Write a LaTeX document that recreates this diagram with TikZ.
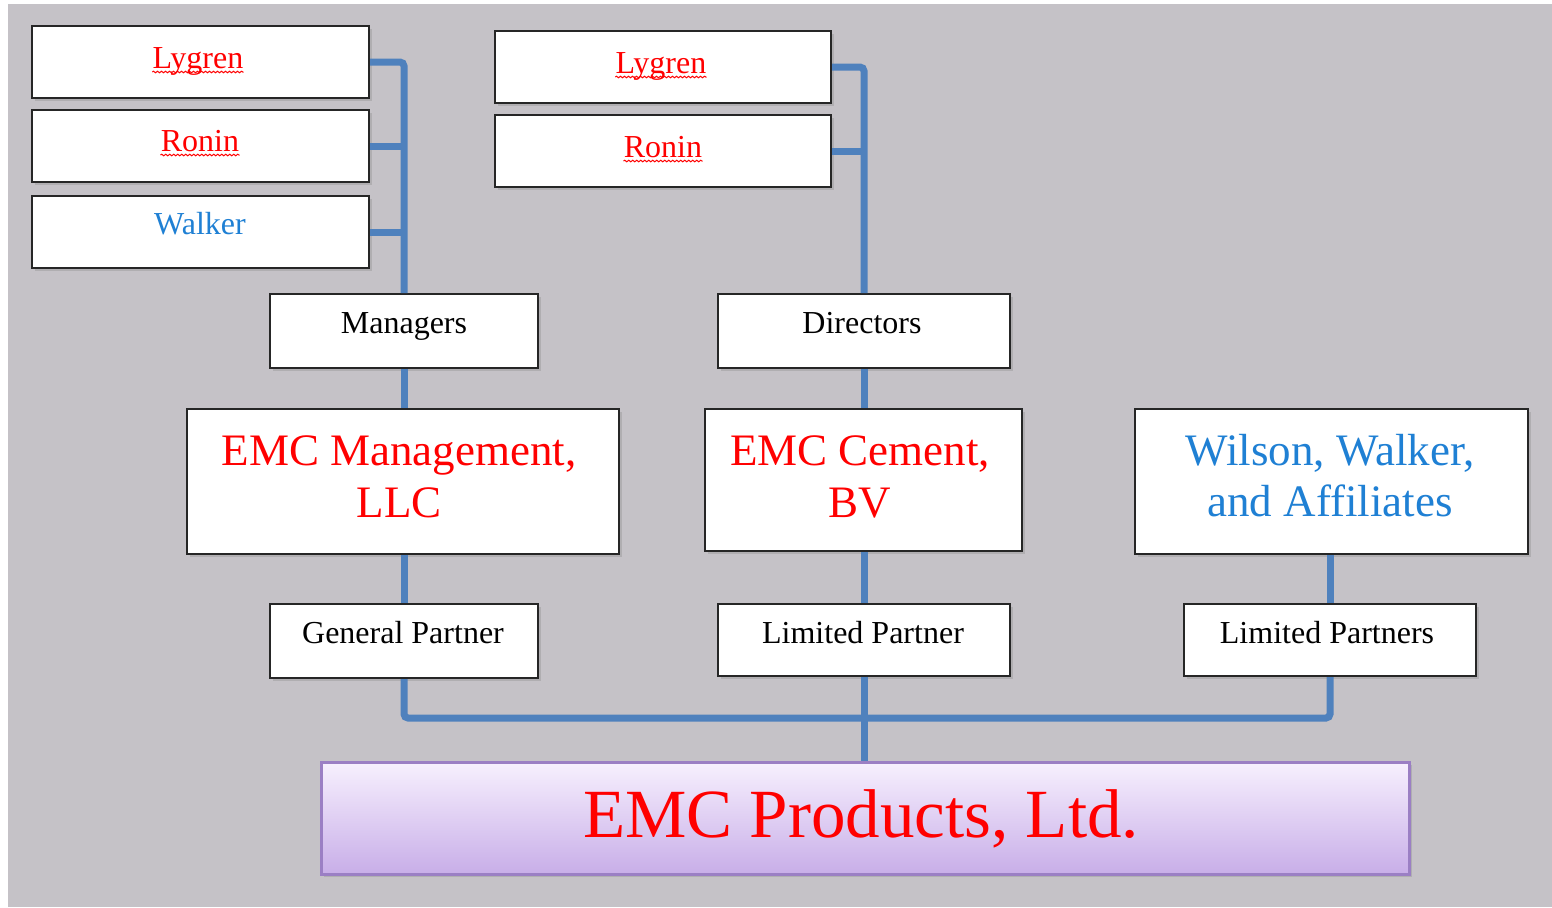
\documentclass[tikz,border=0pt]{standalone}
\usepackage{fontspec}
\setmainfont{Liberation Serif}
\usetikzlibrary{shadows,decorations.pathmorphing}
\definecolor{bg}{HTML}{C5C2C7}
\definecolor{conn}{HTML}{4F81BD}
\definecolor{tblue}{RGB}{31,128,212}
\definecolor{tred}{HTML}{FF0000}
\definecolor{pborder}{HTML}{9B7FC4}
\definecolor{ptop}{HTML}{F7F0FE}
\definecolor{pbot}{HTML}{C8AEE8}
\begin{document}
\begin{tikzpicture}[x=0.5pt,y=-0.5pt,
  box/.style={draw=black!85, line width=1pt, fill=white, inner sep=0pt,
    drop shadow={shadow xshift=1.5pt, shadow yshift=-1.5pt, opacity=0.3}},
  small/.style={font=\fontsize{16}{19}\selectfont, inner sep=0pt, anchor=base},
  big/.style={font=\fontsize{22.5}{26}\selectfont, inner sep=0pt, anchor=base},
  wire/.style={draw=conn, line width=3.5pt},
  squig/.style={draw=tred, line width=0.5pt, decorate,
    decoration={snake, amplitude=0.4pt, segment length=2pt}}]
\useasboundingbox (0,0) rectangle (1552,907);
\fill[white] (0,0) rectangle (1552,907);
\fill[bg] (8,4) rectangle (1552,907);

\coordinate (bus) at (863,718);

% boxes
\node[box, minimum width=168.5pt, minimum height=36pt] (lyg1) at (200.5,62) {};
\node[box, minimum width=168.5pt, minimum height=36pt] (ron1) at (200.5,146) {};
\node[box, minimum width=168.5pt, minimum height=36pt] (wal) at (200.5,232) {};
\node[box, minimum width=168pt, minimum height=36pt] (lyg2) at (663,67) {};
\node[box, minimum width=168pt, minimum height=36pt] (ron2) at (663,151) {};
\node[box, minimum width=134pt, minimum height=37pt] (mgr) at (404,331) {};
\node[box, minimum width=146pt, minimum height=37pt] (dir) at (864,331) {};
\node[box, minimum width=216pt, minimum height=72.5pt] (emcm) at (403,481.5) {};
\node[box, minimum width=158.5pt, minimum height=71pt] (emcc) at (863.5,480) {};
\node[box, minimum width=196.5pt, minimum height=72.5pt] (wil) at (1331.5,481.5) {};
\node[box, minimum width=134pt, minimum height=37pt] (gp) at (404,641) {};
\node[box, minimum width=146pt, minimum height=36pt] (lp) at (864,640) {};
\node[box, minimum width=146pt, minimum height=36pt] (lps) at (1330,640) {};
\node[draw=pborder, line width=1.5pt, top color=ptop, bottom color=pbot,
  minimum width=544pt, minimum height=56pt, inner sep=0pt,
  drop shadow={shadow xshift=1.5pt, shadow yshift=-1.5pt, opacity=0.3}] (prod) at (865,818) {};

% connectors
\draw[wire, rounded corners=2pt] (lyg1.east) -| (mgr.north);
\draw[wire] (ron1.east) -- (ron1.east -| mgr.north);
\draw[wire] (wal.east) -- (wal.east -| mgr.north);
\draw[wire, rounded corners=2pt] (lyg2.east) -| (dir.north);
\draw[wire] (ron2.east) -- (ron2.east -| dir.north);
\draw[wire] (mgr.south) -- (mgr.south |- emcm.north);
\draw[wire] (emcm.south -| gp.north) -- (gp.north);
\draw[wire] (dir.south) -- (dir.south |- emcc.north);
\draw[wire] (emcc.south -| lp.north) -- (lp.north);
\draw[wire] (wil.south -| lps.north) -- (lps.north);
\draw[wire, rounded corners=2pt] (gp.south) |- (bus) -| (lps.south);
\draw[wire] (lp.south) -- (lp.south |- prod.north);

% texts
\node[small, tred] (lyg1t) at (198,68) {Lygren};
\node[small, tred] (ron1t) at (200,151) {Ronin};
\node[small, tblue] (walt) at (200,234) {Walker};
\node[small, tred] (lyg2t) at (661,73) {Lygren};
\node[small, tred] (ron2t) at (663,157) {Ronin};
\draw[squig] ([yshift=-2pt]lyg1t.base west) -- ([yshift=-2pt]lyg1t.base east);
\draw[squig] ([yshift=-2pt]ron1t.base west) -- ([yshift=-2pt]ron1t.base east);
\draw[squig] ([yshift=-2pt]lyg2t.base west) -- ([yshift=-2pt]lyg2t.base east);
\draw[squig] ([yshift=-2pt]ron2t.base west) -- ([yshift=-2pt]ron2t.base east);
\node[small] (mgrt) at (404,333) {Managers};
\node[small] (dirt) at (862,333) {Directors};
\node[big, tred] (emcm1) at (399,465) {EMC Management,};
\node[big, tred] (emcm2) at (399,517) {LLC};
\node[big, tred] (emcc1) at (860,465) {EMC Cement,};
\node[big, tred] (emcc2) at (860,517) {BV};
\node[big, tblue] (wil1) at (1330,465) {Wilson, Walker,};
\node[big, tblue] (wil2) at (1330,516) {and Affiliates};
\node[small] (gpt) at (403,643) {General Partner};
\node[small] (lpt) at (863,643) {Limited Partner};
\node[small] (lpst) at (1327,643) {Limited Partners};
\node[font=\fontsize{34.5}{40}\selectfont, inner sep=0pt, anchor=base, tred] (prodt) at (861,837) {EMC Products, Ltd.};
\end{tikzpicture}
\end{document}
